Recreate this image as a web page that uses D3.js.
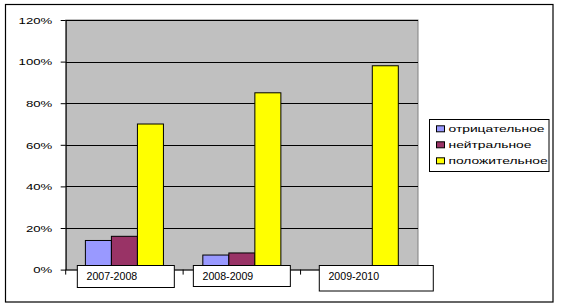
<!DOCTYPE html>
<html><head><meta charset="utf-8">
<script src="https://cdn.jsdelivr.net/npm/d3@7"></script>
<style>body{margin:0;background:#fff}svg{display:block}</style>
</head><body>
<svg id="c" width="561" height="307"></svg>
<script>
const categories = ["2007-2008", "2008-2009", "2009-2010"];
const seriesNames = ["отрицательное", "нейтральное", "положительное"];
const negative = [0.14, 0.07, 0];
const neutral  = [0.16, 0.08, 0];
const positive = [0.70, 0.85, 0.98];
const yTicks = [0, 0.2, 0.4, 0.6, 0.8, 1.0, 1.2];

const colors = ["#9999FF", "#993366", "#FFFF00"];
const seriesValues = [negative, neutral, positive];

const svg = d3.select("#c");
const plot = {left: 65.7, right: 418, top: 20, bottom: 269.6};
const stretch = 1.37, legendStretch = 1.44;

// outer border
svg.append("rect").attr("x", 5.5).attr("y", 4.5).attr("width", 547.5).attr("height", 297.5)
  .attr("fill", "#fff").attr("stroke", "#000").attr("stroke-width", 1.2);

const x = d3.scaleBand().domain(categories).range([plot.left, plot.right]).padding(0);
const xi = d3.scaleBand().domain(seriesNames).range([0, x.bandwidth()]).paddingInner(0).paddingOuter(0.757);
const y = d3.scaleLinear().domain([0, 1.2]).range([plot.bottom, plot.top]);

// plot area
svg.append("rect").attr("x", plot.left).attr("y", plot.top)
  .attr("width", plot.right - plot.left).attr("height", plot.bottom - plot.top)
  .attr("fill", "#C0C0C0").attr("stroke", "#808080").attr("stroke-width", 1);

// gridlines
svg.append("g").selectAll("line").data(yTicks.filter(d => d > 0)).join("line")
  .attr("x1", plot.left).attr("x2", plot.right)
  .attr("y1", d => Math.round(y(d)) + 0.5).attr("y2", d => Math.round(y(d)) + 0.5)
  .attr("stroke", "#000").attr("stroke-width", 1);

// y axis
const yAxis = svg.append("g").attr("transform", `translate(${plot.left},0)`)
  .call(d3.axisLeft(y).tickValues(yTicks).tickSize(5).tickSizeOuter(0).tickFormat(d3.format(".0%")));
yAxis.select(".domain").attr("stroke", "#000");
yAxis.selectAll(".tick line").attr("stroke", "#000");
yAxis.selectAll(".tick text")
  .attr("x", 0).attr("dy", "0.34em")
  .attr("transform", `translate(-13.5,0) scale(${stretch},1)`)
  .attr("font-family", "Liberation Sans, Arial, sans-serif").attr("font-size", 9.6).attr("fill", "#000");

// x axis
const xAxis = svg.append("g").attr("transform", `translate(0,${plot.bottom})`);
xAxis.append("line").attr("x1", plot.left).attr("x2", plot.right).attr("y1", 0.5).attr("y2", 0.5).attr("stroke", "#000");
const bounds = categories.map(c => x(c)).concat([x(categories[categories.length - 1]) + x.bandwidth()]);
xAxis.selectAll("line.t").data(bounds).join("line").attr("class", "t")
  .attr("x1", d => d).attr("x2", d => d).attr("y1", 0).attr("y2", 5).attr("stroke", "#000");

// bars
seriesNames.forEach((s, si) => {
  svg.append("g").selectAll("rect").data(categories.map((c, ci) => ({c, v: seriesValues[si][ci]})))
    .join("rect")
    .attr("x", d => x(d.c) + xi(s))
    .attr("y", d => y(d.v))
    .attr("width", xi.bandwidth())
    .attr("height", d => y(0) - y(d.v))
    .attr("fill", colors[si]).attr("stroke", "#000").attr("stroke-width", 1);
});

// category label boxes
const boxDx = [1.4, 0, 17], boxW = [97, 97, 114], boxH = [22, 21, 25.5];
const lab = svg.append("g");
categories.forEach((c, i) => {
  const cx = x(c) + x.bandwidth() / 2 + boxDx[i];
  const bx = cx - boxW[i] / 2, by = 265.5;
  lab.append("rect").attr("x", bx).attr("y", by).attr("width", boxW[i]).attr("height", boxH[i])
    .attr("fill", "#fff").attr("stroke", "#000").attr("stroke-width", 1);
  lab.append("text").attr("x", bx + 9.2).attr("y", 280.3).text(c)
    .attr("font-family", "Liberation Sans, Arial, sans-serif").attr("font-size", 10.6).attr("fill", "#000");
});

// legend
const lg = svg.append("g");
lg.append("rect").attr("x", 429.5).attr("y", 119.5).attr("width", 119.5).attr("height", 52)
  .attr("fill", "#fff").attr("stroke", "#000").attr("stroke-width", 1);
seriesNames.forEach((s, i) => {
  const cy = 128.8 + i * 16;
  lg.append("rect").attr("x", 436.5).attr("y", cy - 3).attr("width", 8).attr("height", 6)
    .attr("fill", colors[i]).attr("stroke", "#000").attr("stroke-width", 1);
  lg.append("text").attr("x", 0).attr("y", 0).attr("dy", "0.34em")
    .attr("transform", `translate(448.5,${cy}) scale(${legendStretch},1)`)
    .attr("font-family", "Liberation Sans, Arial, sans-serif").attr("font-size", 9.6).attr("fill", "#000")
    .text(s);
});
</script>
</body></html>
